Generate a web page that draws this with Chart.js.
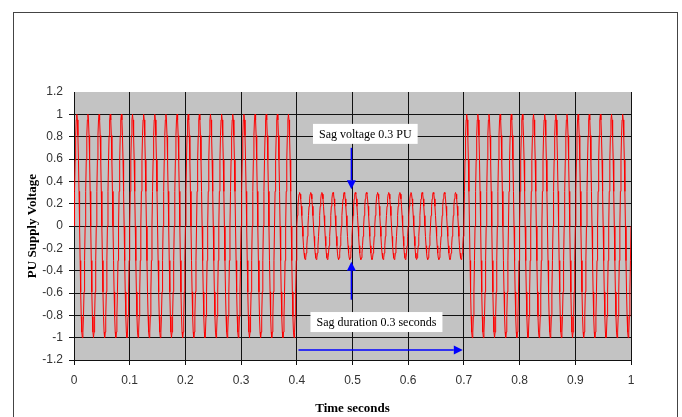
<!DOCTYPE html>
<html>
<head>
<meta charset="utf-8">
<script src="https://cdn.jsdelivr.net/npm/chart.js@4/dist/chart.umd.min.js"></script>
<style>
  html, body { margin: 0; padding: 0; background: #fff; }
  #wrap { width: 682px; height: 417px; }
</style>
</head>
<body>
<div id="wrap"><canvas id="sagChart" width="682" height="417"></canvas></div>
<script>
// one 50 Hz cycle (per unit, 20 samples per 20 ms)
const cycleShape = [0, 0.31, 0.59, 0.81, 0.95, 1, 0.95, 0.81, 0.59, 0.31,
                    0, -0.31, -0.59, -0.81, -0.95, -1, -0.95, -0.81, -0.59, -0.31];
const cyclePeriod = 0.02;

// supply segments: normal, sag, normal
const segmentStart = [0, 0.4, 0.7];
const segmentEnd = [0.4, 0.7, 1.0];
const segmentAmplitude = [1, 0.3, 1];

// axis ticks
const xTicks = [0, 0.1, 0.2, 0.3, 0.4, 0.5, 0.6, 0.7, 0.8, 0.9, 1];
const yTicks = [-1.2, -1, -0.8, -0.6, -0.4, -0.2, 0, 0.2, 0.4, 0.6, 0.8, 1, 1.2];

// annotation texts
const sagVoltageLabel = "Sag voltage 0.3 PU";
const sagDurationLabel = "Sag duration 0.3 seconds";

// build the trace from the measured cycle and segment amplitudes
const trace = [];
const step = cyclePeriod / cycleShape.length;
for (let s = 0; s < segmentStart.length; s++) {
    const n = Math.round((segmentEnd[s] - segmentStart[s]) / step);
    for (let i = 0; i < n; i++) {
        const t = segmentStart[s] + i * step;
        trace.push({ x: t, y: segmentAmplitude[s] * cycleShape[i % cycleShape.length] });
    }
}
trace.push({ x: 1, y: 0 });

const fmt = v => String(Math.round(v * 10) / 10);

// white page, outer frame and grey plot area
const backgroundPlugin = {
    id: "background",
    beforeDraw(chart) {
        const ctx = chart.ctx;
        const a = chart.chartArea;
        ctx.save();
        ctx.fillStyle = "#ffffff";
        ctx.fillRect(0, 0, chart.width, chart.height);
        ctx.strokeStyle = "#444";
        ctx.lineWidth = 1;
        ctx.strokeRect(13.5, 12.5, 664, 500);
        ctx.fillStyle = "#c3c3c3";
        ctx.fillRect(a.left, a.top, a.right - a.left, a.bottom - a.top);
        ctx.restore();
    }
};

function arrow(ctx, x1, y1, x2, y2) {
    const ang = Math.atan2(y2 - y1, x2 - x1);
    const head = 9, half = 4.5;
    ctx.beginPath();
    ctx.moveTo(x1, y1);
    ctx.lineTo(x2 - head * Math.cos(ang), y2 - head * Math.sin(ang));
    ctx.stroke();
    ctx.beginPath();
    ctx.moveTo(x2, y2);
    ctx.lineTo(x2 - head * Math.cos(ang) + half * Math.sin(ang), y2 - head * Math.sin(ang) - half * Math.cos(ang));
    ctx.lineTo(x2 - head * Math.cos(ang) - half * Math.sin(ang), y2 - head * Math.sin(ang) + half * Math.cos(ang));
    ctx.closePath();
    ctx.fill();
}

function textBox(ctx, text, cx, cy) {
    ctx.font = "12px 'Liberation Serif', 'Times New Roman', serif";
    const w = ctx.measureText(text).width + 12;
    const h = 20;
    ctx.fillStyle = "#ffffff";
    ctx.fillRect(cx - w / 2, cy - h / 2, w, h);
    ctx.fillStyle = "#000";
    ctx.textAlign = "center";
    ctx.textBaseline = "middle";
    ctx.fillText(text, cx, cy + 1);
}

const annotationPlugin = {
    id: "sagNotes",
    afterDatasetsDraw(chart) {
        const ctx = chart.ctx;
        const xs = chart.scales.x, ys = chart.scales.y;
        ctx.save();
        ctx.strokeStyle = "#0000ff";
        ctx.fillStyle = "#0000ff";
        ctx.lineWidth = 1.5;
        arrow(ctx, xs.getPixelForValue(0.498), ys.getPixelForValue(0.70),
                   xs.getPixelForValue(0.498), ys.getPixelForValue(0.33));
        arrow(ctx, xs.getPixelForValue(0.498), ys.getPixelForValue(-0.66),
                   xs.getPixelForValue(0.498), ys.getPixelForValue(-0.32));
        arrow(ctx, xs.getPixelForValue(0.403), ys.getPixelForValue(-1.11),
                   xs.getPixelForValue(0.698), ys.getPixelForValue(-1.11));
        textBox(ctx, sagVoltageLabel, xs.getPixelForValue(0.523), ys.getPixelForValue(0.825));
        textBox(ctx, sagDurationLabel, xs.getPixelForValue(0.543), ys.getPixelForValue(-0.86));
        ctx.restore();
    }
};

const sansTick = { family: "'Liberation Sans', Arial, sans-serif", size: 12 };
const serifTitle = { family: "'Liberation Serif', 'Times New Roman', serif", size: 13, weight: "bold" };

new Chart(document.getElementById("sagChart").getContext("2d"), {
    type: "line",
    data: {
        datasets: [
            {
                label: "PU Supply Voltage",
                data: trace,
                borderColor: "#ff0000",
                borderWidth: 1,
                pointRadius: 0,
                tension: 0,
                fill: false,
            },
        ],
    },
    options: {
        responsive: false,
        animation: false,
        events: [],
        layout: { padding: { left: 20, right: 51, top: 92, bottom: 0 } },
        plugins: { legend: { display: false }, tooltip: { enabled: false } },
        scales: {
            x: {
                type: "linear",
                min: 0,
                max: 1,
                afterFit: s => { s.height = 57; },
                afterBuildTicks: s => { s.ticks = xTicks.map(v => ({ value: v })); },
                ticks: { callback: fmt, font: sansTick, color: "#333", padding: 8, maxRotation: 0 },
                grid: { color: "#111", lineWidth: 1, tickLength: 5 },
                border: { color: "#111" },
                title: { display: true, text: "Time seconds", font: serifTitle, color: "#000", padding: { top: 0, bottom: 1 } },
            },
            y: {
                min: -1.2,
                max: 1.2,
                afterFit: s => { s.width = 54; },
                afterBuildTicks: s => { s.ticks = yTicks.map(v => ({ value: v })); },
                ticks: { callback: fmt, font: sansTick, color: "#333", padding: 6 },
                grid: {
                    color: c => (c.tick && c.tick.value === 1.2 ? "rgba(0,0,0,0)" : "#111"),
                    lineWidth: 1,
                    tickLength: 5,
                },
                border: { color: "#111" },
                title: { display: true, text: "PU Supply Voltage", font: serifTitle, color: "#000", padding: { top: 5, bottom: 0 } },
            },
        },
    },
    plugins: [backgroundPlugin, annotationPlugin],
});
</script>
</body>
</html>
